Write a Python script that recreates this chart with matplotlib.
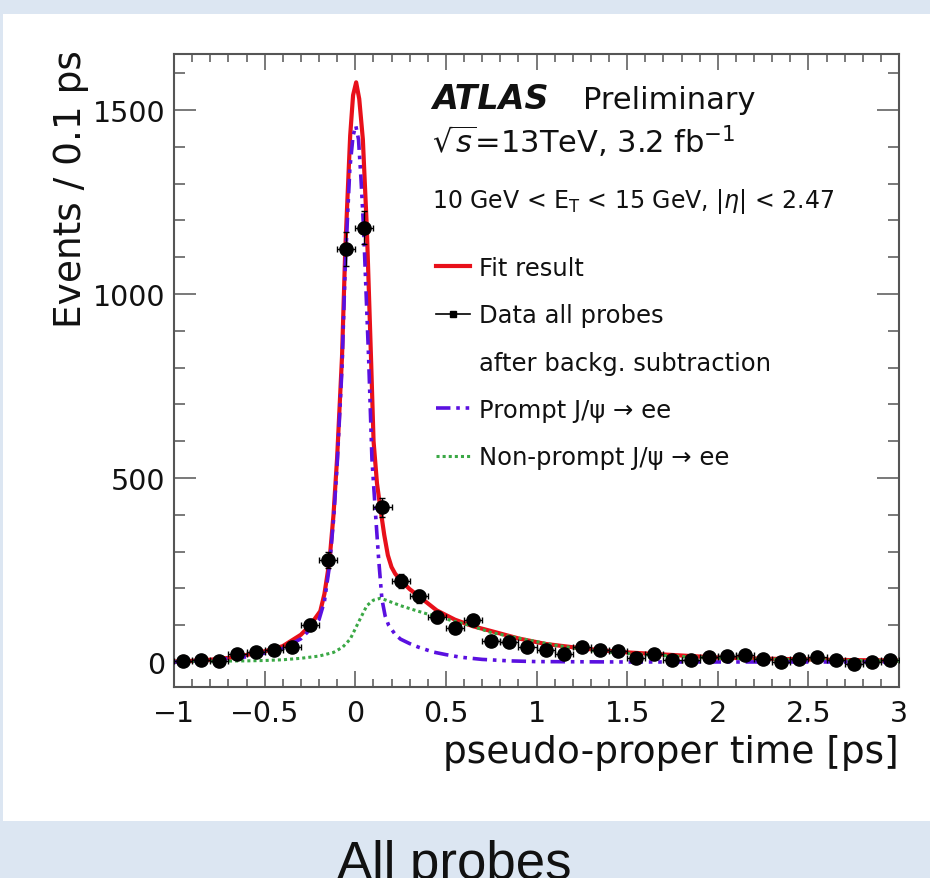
import numpy as np
import matplotlib
matplotlib.use('Agg')
import matplotlib.pyplot as plt
from matplotlib.lines import Line2D
from matplotlib.patches import Rectangle
from matplotlib.ticker import MultipleLocator

# data points (bin centres, 0.1 ps bins)
t_data = [-0.95, -0.85, -0.75, -0.65, -0.55, -0.45, -0.35, -0.25, -0.15, -0.05,
          0.05, 0.15, 0.25, 0.35, 0.45, 0.55, 0.65, 0.75, 0.85, 0.95,
          1.05, 1.15, 1.25, 1.35, 1.45, 1.55, 1.65, 1.75, 1.85, 1.95,
          2.05, 2.15, 2.25, 2.35, 2.45, 2.55, 2.65, 2.75, 2.85, 2.95]
n_data = [2, 6, 3, 22, 28, 33, 40, 101, 278, 1122,
          1180, 420, 220, 178, 121, 92, 114, 58, 55, 40,
          33, 22, 42, 33, 31, 10, 22, 6, 5, 13,
          15, 19, 8, 0, 8, 13, 5, -5, 1, 5]
n_err = [8, 8, 8, 10, 10, 11, 12, 15, 22, 45,
         45, 25, 18, 17, 15, 14, 14, 12, 12, 11,
         10, 10, 10, 10, 9, 9, 9, 8, 8, 8,
         8, 8, 8, 8, 8, 8, 8, 8, 8, 8]

# fit result
fit_t = [-1.0, -0.9, -0.8, -0.7, -0.6, -0.5, -0.4, -0.3, -0.25, -0.193, -0.17,
         -0.142, -0.12, -0.1, -0.073, -0.055, -0.028, -0.012, 0.005, 0.022,
         0.042, 0.064, 0.088, 0.101, 0.12, 0.138, 0.16, 0.18, 0.2, 0.22, 0.25,
         0.3, 0.36, 0.45, 0.55, 0.65, 0.75, 0.9, 1.05, 1.2, 1.35, 1.5, 1.75,
         2.0, 2.25, 2.5, 2.75, 3.0]
fit_y = [1, 3, 6, 11, 19, 29, 43, 74, 99, 138, 185,
         275, 400, 555, 830, 1122, 1430, 1540, 1575, 1530,
         1420, 1178, 810, 600, 485, 420, 345, 290, 258, 240, 222,
         198, 175, 140, 115, 97, 84, 64, 49, 40, 32, 26, 19,
         12, 9, 7, 5, 4]

# prompt component
prompt_t = [-1.0, -0.8, -0.6, -0.5, -0.4, -0.3, -0.25, -0.2, -0.17, -0.142, -0.12,
            -0.1, -0.073, -0.055, -0.03, -0.012, 0.003, 0.018, 0.032, 0.046, 0.06,
            0.074, 0.092, 0.11, 0.129, 0.147, 0.165, 0.184, 0.22, 0.25, 0.3, 0.35,
            0.43, 0.5, 0.58, 0.7, 0.85, 1.0, 1.5, 2.0, 2.5, 3.0]
prompt_y = [0, 4, 14, 24, 36, 63, 88, 115, 165, 262, 385,
            535, 800, 1080, 1340, 1430, 1457, 1420, 1310, 1178, 1000,
            823, 552, 416, 280, 171, 125, 100, 75, 62, 50, 40,
            27, 20, 13, 7, 3, 1, 0, 0, 0, 0]

# non-prompt component
np_t = [-1.0, -0.8, -0.6, -0.5, -0.4, -0.3, -0.2, -0.12, -0.07, -0.028, 0.0, 0.03,
        0.064, 0.1, 0.138, 0.17, 0.25, 0.32, 0.4, 0.45, 0.55, 0.635, 0.75, 0.95,
        1.1, 1.3, 1.5, 1.75, 2.0, 2.25, 2.5, 2.75, 3.0]
np_y = [1, 2, 3, 4, 6, 10, 16, 26, 40, 62, 90, 120,
        153, 168, 173, 168, 153, 142, 130, 124, 110, 99, 80, 60,
        46, 31, 23, 16, 11, 8, 6, 4, 3]

xtick_vals = [-1, -0.5, 0, 0.5, 1, 1.5, 2, 2.5, 3]
xtick_labels = ['\u22121', '\u22120.5', '0', '0.5', '1', '1.5', '2', '2.5', '3']
ytick_vals = [0, 500, 1000, 1500]

red = '#e8101a'
blue = '#5a10e0'
green = '#3aa845'
frame = '#555555'

fig = plt.figure(figsize=(9.3, 8.79), dpi=100, facecolor='#dce6f2')
fig.patches.append(Rectangle((3 / 930, 1 - 822 / 879), 1, (822 - 15) / 879,
                             transform=fig.transFigure, facecolor='white',
                             edgecolor='none', zorder=-10))

ax = fig.add_axes([174 / 930, 1 - 688 / 879, 725 / 930, 633 / 879])
ax.set_facecolor('white')

ax.plot(fit_t, fit_y, color=red, lw=3, zorder=2)
ax.plot(np_t, np_y, color=green, lw=2.2, ls=(0, (1, 1)), zorder=3)
ax.plot(prompt_t, prompt_y, color=blue, lw=2.6,
        ls=(0, (4, 1.6, 1, 1.6, 1, 1.6)), zorder=4)
ax.errorbar(t_data, n_data, xerr=0.05, yerr=n_err, fmt='o', color='k', ms=9.5,
            elinewidth=1, capsize=2.5, capthick=1, zorder=5)

ax.set_xlim(-1, 3)
ax.set_ylim(-68, 1652)
ax.set_xticks(xtick_vals)
ax.set_xticklabels(xtick_labels)
ax.set_yticks(ytick_vals)
ax.xaxis.set_minor_locator(MultipleLocator(0.1))
ax.yaxis.set_minor_locator(MultipleLocator(100))
ax.tick_params(which='both', direction='in', top=True, right=True,
               color=frame, width=1.1, labelsize=20.5, labelcolor='#111111')
ax.tick_params(axis='x', which='major', length=11.5, pad=9)
ax.tick_params(axis='x', which='minor', length=5.8)
ax.tick_params(axis='y', which='major', length=15.8, pad=6)
ax.tick_params(axis='y', which='minor', length=8)
for sp in ax.spines.values():
    sp.set_color(frame)
    sp.set_linewidth(1.5)

ax.set_xlabel('pseudo-proper time [ps]', fontsize=27, loc='right', color='#111111')
ax.xaxis.set_label_coords(1.0, -0.075)
ax.xaxis.label.set_va('top')
ax.set_ylabel('Events / 0.1 ps', fontsize=27, loc='top', color='#111111')
ax.yaxis.set_label_coords(-0.117, 1.008)

ax.text(0.356, 0.914, 'ATLAS', transform=ax.transAxes, fontsize=24,
        fontweight='bold', fontstyle='italic', color='#111111')
ax.text(0.564, 0.914, 'Preliminary', transform=ax.transAxes, fontsize=22,
        color='#111111')
ax.text(0.356, 0.846, r'$\sqrt{s}$=13TeV, 3.2 fb$^{-1}$', transform=ax.transAxes,
        fontsize=22, color='#111111')
ax.text(0.356, 0.758, r'10 GeV < E$_{\mathrm{T}}$ < 15 GeV, |$\eta$| < 2.47',
        transform=ax.transAxes, fontsize=17, color='#111111')

handles = [
    Line2D([], [], color=red, lw=3),
    Line2D([], [], color='k', lw=1.2, marker='s', ms=5),
    Line2D([], [], alpha=0),
    Line2D([], [], color=blue, lw=2.6, ls=(0, (4, 1.6, 1, 1.6, 1, 1.6))),
    Line2D([], [], color=green, lw=2.2, ls=(0, (1, 1))),
]
labels = ['Fit result', 'Data all probes', 'after backg. subtraction',
          'Prompt J/\u03c8 \u2192 ee', 'Non-prompt J/\u03c8 \u2192 ee']
ax.legend(handles, labels, loc='upper left', bbox_to_anchor=(0.361, 0.681),
          frameon=False, fontsize=17.5, borderpad=0, borderaxespad=0,
          handlelength=1.4, handletextpad=0.37, labelspacing=0.96,
          labelcolor='#111111')

fig.text(454.5 / 930, 1 - 840 / 879, 'All probes', family='Liberation Sans',
         fontsize=38, ha='center', va='top', color='#111111')

fig.savefig('out.png', dpi=100, facecolor=fig.get_facecolor())
